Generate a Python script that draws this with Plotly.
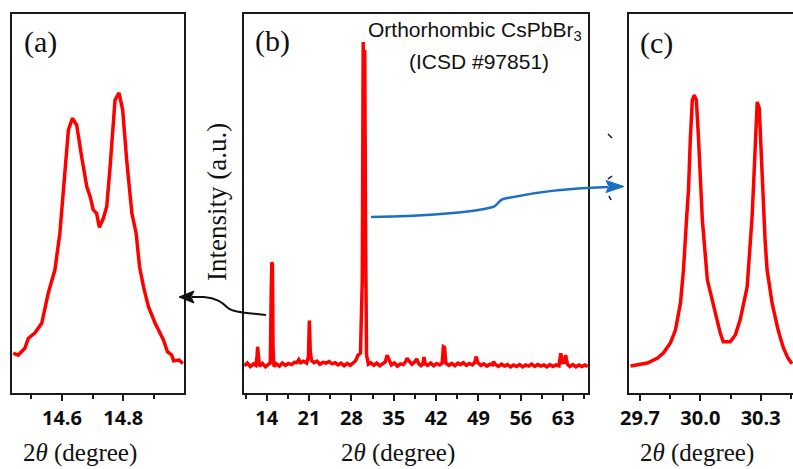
import plotly.graph_objects as go

W, H = 793, 469

# (a) zoom on the ~14.7 deg doublet
a_theta = [14.441, 14.457, 14.479, 14.490, 14.512, 14.534, 14.555, 14.577, 14.593, 14.607,
           14.621, 14.634, 14.648, 14.664, 14.681, 14.692, 14.702, 14.713, 14.722, 14.735,
           14.746, 14.757, 14.773, 14.786, 14.798, 14.811, 14.828, 14.842, 14.853, 14.866,
           14.882, 14.904, 14.931, 14.944, 14.958, 14.964, 14.982, 14.994]
a_int = [10.5, 10.0, 11.8, 14.4, 15.9, 18.4, 26.3, 32.5, 42.1, 55.3,
         69.4, 72.5, 70.7, 62.4, 54.4, 51.8, 48.3, 47.4, 43.7, 46.1,
         49.2, 59.7, 77.3, 79.2, 74.7, 61.5, 47.4, 42.1, 33.3, 28.0,
         22.8, 18.4, 14.0, 10.9, 10.0, 8.5, 8.7, 7.8]

# (b) full diffraction pattern
b_theta = [10.3, 10.8, 11.3, 11.8, 12.2, 12.4, 12.5, 12.6, 12.8, 13.3,
           13.8, 14.3, 14.6, 14.75, 14.85, 14.95, 15.05, 15.2, 15.6, 16.1,
           16.6, 17.1, 17.6, 18.1, 18.6, 19.0, 19.3, 19.6, 20.1, 20.6,
           20.9, 21.05, 21.2, 21.4, 21.8, 22.3, 22.8, 23.3, 23.8, 24.3,
           24.8, 25.3, 25.8, 26.3, 26.8, 27.3, 27.8, 28.3, 28.7, 29.1,
           29.5, 29.8, 29.95, 30.1, 30.2, 30.35, 30.5, 30.8, 31.2, 31.7,
           32.2, 32.7, 33.2, 33.6, 33.9, 34.2, 34.6, 35.1, 35.6, 36.1,
           36.6, 37.0, 37.2, 37.5, 38.0, 38.5, 38.8, 39.1, 39.5, 39.8,
           40.0, 40.2, 40.6, 41.1, 41.6, 42.1, 42.6, 43.0, 43.2, 43.4,
           43.6, 44.1, 44.6, 45.1, 45.6, 46.0, 46.5, 47.0, 47.5, 48.0,
           48.4, 48.6, 48.9, 49.4, 49.9, 50.4, 50.9, 51.3, 51.5, 51.8,
           52.3, 52.8, 53.3, 53.8, 54.3, 54.8, 55.3, 55.8, 56.3, 56.8,
           57.3, 57.8, 58.3, 58.8, 59.3, 59.8, 60.3, 60.8, 61.3, 61.8,
           62.3, 62.6, 62.9, 63.2, 63.4, 63.7, 64.1, 64.6, 65.1, 65.6,
           66.1, 66.6, 67.05]
b_int = [7.2, 7.9, 7.0, 7.7, 7.3, 9.5, 12.2, 9.0, 7.1, 7.8,
         6.9, 7.6, 7.9, 27.0, 34.5, 33.8, 12.0, 7.0, 7.7, 7.1,
         7.9, 7.3, 7.8, 7.5, 8.1, 8.0, 8.8, 8.0, 8.4, 7.9,
         9.5, 19.1, 11.0, 8.6, 8.0, 8.4, 7.6, 8.1, 7.9, 8.3,
         7.7, 8.0, 7.4, 7.9, 7.2, 7.8, 7.3, 8.0, 8.5, 10.0,
         10.5, 30.0, 92.6, 60.0, 90.5, 40.0, 10.0, 7.6, 8.0, 7.3,
         7.9, 7.2, 7.8, 8.2, 10.0, 9.0, 7.4, 7.9, 7.1, 7.7,
         7.5, 8.4, 9.2, 8.5, 7.6, 8.3, 9.0, 7.8, 7.2, 7.6,
         9.5, 7.7, 7.3, 7.9, 7.2, 7.8, 7.4, 7.9, 12.2, 12.0,
         7.9, 7.3, 7.8, 7.2, 7.9, 7.5, 8.0, 7.3, 7.8, 7.4,
         8.1, 9.6, 8.0, 7.3, 7.7, 7.1, 7.6, 7.4, 8.3, 7.5,
         7.0, 7.6, 7.1, 7.5, 6.9, 7.4, 7.0, 7.5, 6.9, 7.4,
         7.1, 7.6, 7.0, 7.5, 7.1, 7.4, 6.9, 7.5, 7.0, 7.4,
         7.2, 10.5, 8.0, 8.1, 10.0, 7.6, 7.0, 7.5, 6.9, 7.4,
         7.0, 7.4, 7.0]

# (c) zoom on the ~30 deg doublet
c_theta = [29.653, 29.737, 29.787, 29.817, 29.851, 29.876, 29.901, 29.916, 29.931, 29.941,
           29.950, 29.960, 29.970, 29.980, 29.990, 30.000, 30.010, 30.035, 30.074, 30.099,
           30.114, 30.149, 30.174, 30.198, 30.233, 30.248, 30.258, 30.268, 30.278, 30.283,
           30.293, 30.302, 30.312, 30.322, 30.332, 30.357, 30.387, 30.412, 30.436, 30.456]
c_int = [7.1, 7.9, 9.2, 10.6, 13.2, 16.6, 23.7, 32.5, 45.6, 53.6,
         66.8, 77.3, 78.6, 77.3, 68.1, 54.9, 45.6, 29.8, 21.1, 15.8,
         13.5, 13.5, 15.3, 19.3, 28.0, 38.5, 47.0, 58.8, 70.7, 76.8,
         75.2, 64.1, 49.6, 40.4, 32.5, 23.7, 16.6, 12.1, 9.2, 7.7]

RED = "#ff0000"
FRAME = "#1a1a1a"
BLUE = "#1d6fc2"
SERIF = "Liberation Serif"
SANS = "Liberation Sans"
TICKFONT = dict(family="Open Sans", size=20, color="#0d0d0d", weight="bold")


def px(x):
    return x / W


def py(y):
    return 1 - y / H


def path_of(points, cmds):
    """Build an SVG path in paper coordinates from pixel positions."""
    parts = []
    i = 0
    for c in cmds:
        if c in ("M", "L"):
            x, y = points[i]
            parts.append(f"{c} {px(x):.5f},{py(y):.5f}")
            i += 1
        elif c == "C":
            seg = points[i:i + 3]
            parts.append("C " + " ".join(f"{px(x):.5f},{py(y):.5f}" for x, y in seg))
            i += 3
        elif c == "Z":
            parts.append("Z")
    return " ".join(parts)


fig = go.Figure()
fig.add_trace(go.Scatter(x=a_theta, y=a_int, xaxis="x", yaxis="y", mode="lines",
                         line=dict(color=RED, width=3.5)))
fig.add_trace(go.Scatter(x=b_theta, y=b_int, xaxis="x2", yaxis="y2", mode="lines",
                         line=dict(color=RED, width=3.5)))
fig.add_trace(go.Scatter(x=c_theta, y=c_int, xaxis="x3", yaxis="y3", mode="lines",
                         line=dict(color=RED, width=3.5)))

ydom = [1 - 393 / H, 1 - 14 / H]


def xax(dom, rng, tick0, dtick, mdtick, fmt, anchor, mirror=True):
    return dict(domain=dom, range=rng, anchor=anchor, showline=True, linecolor=FRAME,
                linewidth=2, mirror=mirror, showgrid=False, zeroline=False,
                automargin=False,
                ticks="outside", ticklen=6, tickwidth=2, tickcolor=FRAME,
                tick0=tick0, dtick=dtick, tickformat=fmt, tickfont=TICKFONT,
                minor=dict(ticks="outside", ticklen=4, tickwidth=2, tickcolor=FRAME,
                           dtick=mdtick, showgrid=False))


def yax(anchor, mirror=True):
    return dict(domain=ydom, range=[0, 100], anchor=anchor, showline=True,
                linecolor=FRAME, linewidth=2, mirror=mirror, showgrid=False,
                zeroline=False, automargin=False, ticks="", showticklabels=False)


shapes = []
# black arrow from (b) to (a)
shapes.append(dict(type="path", xref="paper", yref="paper",
                   path=path_of([(266, 315), (250, 313), (234, 313), (228, 308),
                                 (222, 302), (216, 298), (204, 297), (192, 297)], "MCCL"),
                   line=dict(color="#111111", width=2)))
shapes.append(dict(type="path", xref="paper", yref="paper",
                   path=path_of([(179, 297), (194, 291), (191, 297), (194, 303)], "MLLLZ"),
                   fillcolor="#111111", line=dict(color="#111111", width=1)))
# blue arrow from (b) to (c)
shapes.append(dict(type="path", xref="paper", yref="paper",
                   path=path_of([(371, 217), (420, 216), (470, 213), (493, 207),
                                 (497, 206), (498, 201), (503, 199),
                                 (530, 193), (570, 188), (608, 187)], "MCCC"),
                   line=dict(color=BLUE, width=2.5)))
shapes.append(dict(type="path", xref="paper", yref="paper",
                   path=path_of([(624, 186.5), (606, 180.5), (609, 186.5), (606, 192.5)], "MLLLZ"),
                   fillcolor=BLUE, line=dict(color=BLUE, width=1)))
# small broken-axis marks
for (x0, y0, x1, y1) in [(608, 134, 612, 138), (608, 179, 612, 176), (609, 196, 611, 200)]:
    shapes.append(dict(type="line", xref="paper", yref="paper",
                       x0=px(x0), y0=py(y0), x1=px(x1), y1=py(y1),
                       line=dict(color="#111111", width=1.5)))

ann = []


def label(text, x, y, font, **kw):
    ann.append(dict(text=text, x=px(x), y=py(y), xref="paper", yref="paper",
                    xanchor="center", yanchor="middle",
                    showarrow=False, font=font, **kw))


serif = lambda s: dict(family=SERIF, size=s, color="#111111")
sans = lambda s: dict(family=SANS, size=s, color="#111111")

label("(a)", 40, 42, serif(30))
label("(b)", 272, 41, serif(30))
label("(c)", 656, 43, serif(30))
label("Orthorhombic CsPbBr<sub>3</sub>", 475, 31, sans(21))
label("(ICSD #97851)", 479, 61, sans(21))
label("Intensity (a.u.)", 217, 202, serif(27), textangle=-90)
for cx in (80, 398, 697):
    label("2<i>θ</i> (degree)", cx, 453, serif(25))

fig.update_layout(
    template="none",
    width=W, height=H, margin=dict(l=0, r=0, t=0, b=0, pad=0, autoexpand=False),
    paper_bgcolor="white", plot_bgcolor="white", showlegend=False,
    xaxis=xax([px(12), px(184)], [14.437, 14.998], 14.6, 0.2, 0.1, ".1f", "y"),
    yaxis=yax("x"),
    xaxis2=xax([px(244), px(588)], [10.25, 67.1], 14, 7, 3.5, "d", "y2"),
    yaxis2=yax("x2"),
    xaxis3=xax([px(629), 1.0], [29.645, 30.461], 29.7, 0.3, 0.15, ".1f", "y3"),
    yaxis3=yax("x3", mirror=False),
    shapes=shapes, annotations=ann,
)

fig.write_html("out.html")
